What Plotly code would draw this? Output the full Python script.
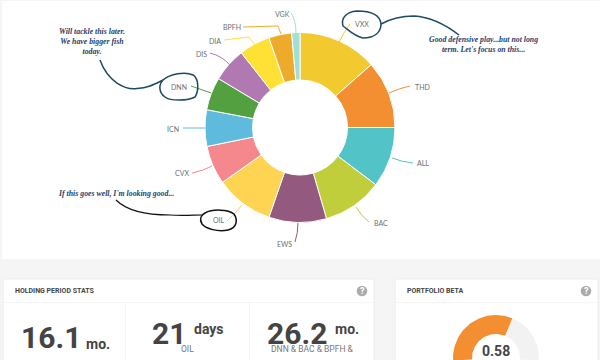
import numpy as np
import plotly.graph_objects as go

tickers = ["VXX", "THD", "ALL", "BAC", "EWS", "OIL", "CVX", "ICN", "DNN", "DIS", "DIA", "BPFH", "VGK"]
weights = [13.5, 11.5, 10.3, 10.2, 9.8, 9.9, 6.6, 6.2, 5.6, 5.8, 5.3, 3.9, 1.4]
beta_value = 0.58
beta_rest = 0.35
stat_titles = ["HOLDING PERIOD STATS", "PORTFOLIO BETA"]
notes = ["Will tackle this later.<br>We have bigger fish<br>today.",
         "Good defensive play...but not long<br>term. Let's focus on this...",
         "If this goes well, I'm looking good..."]

W, H = 600, 360
colors = ["#F2C92E", "#F38F31", "#52C3C6", "#BFCE3A", "#94597F", "#FFD452", "#F5888D",
          "#5FBBDD", "#52A03F", "#B079B2", "#FFE135", "#EDAB2B", "#A0DFD5"]
label_xy = [(362, 24), (422, 87), (423, 163), (381, 223), (284, 244), (219, 220), (182, 173),
            (173, 129), (179, 87), (201, 54), (215, 41), (232, 27), (282, 14)]
leaders = ["M350,24 Q344,32 339,42", "M410,86 Q400,88 389,93", "M413,163 Q402,162 392,158",
           "M369,222 Q362,217 356,207", "M295,242 Q298,233 298,223", "M227,221 Q235,214 242,205",
           "M192,173 Q203,171 212,166", "M183,128 L205,128", "M191,86 L211,93",
           "M210,53 Q222,56 230,65", "M224,40 L249,37 L255,45", "M243,27 L278,26 L281,34",
           "M291,13 Q296,20 296,33"]

def px(x): return x / W
def py(y): return 1 - y / H

def text(x, y, s, size, color="#444444", family="Roboto", anchor="center"):
    return dict(x=px(x), y=py(y), xref="paper", yref="paper", text=s, showarrow=False,
                xanchor=anchor, yanchor="middle", align="center", borderpad=0,
                font=dict(family=family, size=size, color=color))

def rect(x0, y0, x1, y1, fill="#ffffff", line="rgba(0,0,0,0)"):
    return dict(type="rect", xref="paper", yref="paper", x0=px(x0), x1=px(x1), y0=py(y0), y1=py(y1),
                fillcolor=fill, line=dict(color=line, width=1), layer="below")

def scale_path(d):
    out, tok = [], d.replace(",", " ").split()
    is_x = True
    for t in tok:
        if t[0].isalpha():
            out.append(t[0])
            t = t[1:]
            is_x = True
            if not t:
                continue
        v = float(t)
        out.append(f"{px(v):.5f}" if is_x else f"{py(v):.5f}")
        is_x = not is_x
    return " ".join(out)

def path(d, color, width):
    return dict(type="path", xref="paper", yref="paper", path=scale_path(d),
                line=dict(color=color, width=width), layer="above")

fig = go.Figure()
fig.add_trace(go.Pie(labels=tickers, values=weights, sort=False, direction="clockwise", rotation=0,
                     hole=0.5, textinfo="none", hoverinfo="skip", showlegend=False,
                     marker=dict(colors=colors, line=dict(color="#ffffff", width=1)),
                     domain=dict(x=[px(205), px(395)], y=[py(222.5), py(32.5)])))

frac = beta_value / (beta_value + beta_rest)
split = np.pi * (1 - frac)
def ring(a0, a1):
    t = np.linspace(a0, a1, 80)
    r_o, r_i = 1.0, 24 / 43
    return (np.r_[r_o * np.cos(t), r_i * np.cos(t[::-1])], np.r_[r_o * np.sin(t), r_i * np.sin(t[::-1])])
ext = 0.06
for a0, a1, c in [(-ext, split, "#F2F2F2"), (split, np.pi + ext, "#F38F31")]:
    x, y = ring(a0, a1)
    fig.add_trace(go.Scatter(x=x, y=y, mode="lines", fill="toself", fillcolor=c, line=dict(width=0, color=c),
                             hoverinfo="skip", showlegend=False))

shapes = [rect(2, 1, 600, 259), rect(3, 279, 374, 362, line="#ECECEC"), rect(395, 279, 598, 362, line="#ECECEC"),
          rect(3, 302, 374, 302.6, fill="#EDEDED"), rect(395, 302, 598, 302.6, fill="#EDEDED"),
          rect(125, 302, 125.6, 360, fill="#EDEDED"), rect(249, 302, 249.6, 360, fill="#EDEDED")]
for d, c in zip(leaders, colors):
    shapes.append(path(d, c, 1))
navy, ink = "#1F4A63", "#111111"
shapes += [
    path("M163,80 C170,74 185,71 193,75 C199,79 199,91 195,97 C188,101 170,101 165,97 C158,92 159,84 163,80", navy, 1.5),
    path("M100,60 C108,82 125,90 137,88.5 C148,88 155,84 163,80", navy, 1.5),
    path("M381,24 C380,14 370,11 357,11 C345,12 341,19 343,26 C349,30 352,35 363,38 C375,38 381,32 381,24", navy, 1.5),
    path("M381,24 C392,18 404,16 414,16 C430,17 446,25 459,35", navy, 1.5),
    path("M205,213 C212,209 228,209 234,214 C238,220 237,228 228,230 C218,232 206,229 202,224 C199,219 201,215 205,213", ink, 1.5),
    path("M116,200 C128,212 150,215 170,215 C182,216 194,215 203,215", ink, 1.2),
]
for cx in (362, 586):
    shapes.append(dict(type="circle", xref="paper", yref="paper", x0=px(cx - 5.3), x1=px(cx + 5.3),
                       y0=py(291 + 5.3), y1=py(291 - 5.3), fillcolor="#ABABAB", line=dict(width=0), layer="above"))

script = "Liberation Serif"
ann = [text(x, y, t, 7, color="#6E6E6E", family="Lato") for (x, y), t in zip(label_xy, tickers)]
ann += [
    text(92, 41, f"<b><i>{notes[0]}</i></b>", 7.8, color="#24406B", family=script),
    text(483, 44.5, f"<b><i>{notes[1]}</i></b>", 7.8, color="#24406B", family=script),
    text(116, 193, f"<b><i>{notes[2]}</i></b>", 7.8, color="#24406B", family=script),
    text(14, 291, f"<b>{stat_titles[0]}</b>", 7, anchor="left"),
    text(405.5, 291, f"<b>{stat_titles[1]}</b>", 7, anchor="left"),
    text(362, 291, "<b>?</b>", 9, color="#ffffff"),
    text(586, 291, "<b>?</b>", 9, color="#ffffff"),
    text(20, 337.5, "<b>16.1</b>", 30, anchor="left"),
    text(85.5, 344, "<b>mo.</b>", 14, anchor="left"),
    text(151, 333, "<b>21</b>", 30, anchor="left"),
    text(193, 329, "<b>days</b>", 14, anchor="left"),
    text(187, 349, "OIL", 8.5, color="#777777"),
    text(266, 333, "<b>26.2</b>", 30, anchor="left"),
    text(334, 329, "<b>mo.</b>", 14, anchor="left"),
    text(312, 349, "DNN &amp; BAC &amp; BPFH &amp;", 8.5, color="#777777"),
    text(495.5, 351, f"<b>{beta_value:.2f}</b>", 14),
]

fig.update_layout(
    width=W, height=H, margin=dict(l=0, r=0, t=0, b=0), paper_bgcolor="#F5F5F5", plot_bgcolor="rgba(0,0,0,0)",
    xaxis=dict(domain=[px(453), px(539)], range=[-1, 1], visible=False, fixedrange=True),
    yaxis=dict(domain=[0, py(315)], range=[-2 / 43, 1], visible=False, fixedrange=True),
    shapes=shapes, annotations=ann, showlegend=False)
fig.write_html("out.html", config=dict(displayModeBar=False),
               post_script="document.body.style.margin='0';document.body.style.overflow='hidden';")
